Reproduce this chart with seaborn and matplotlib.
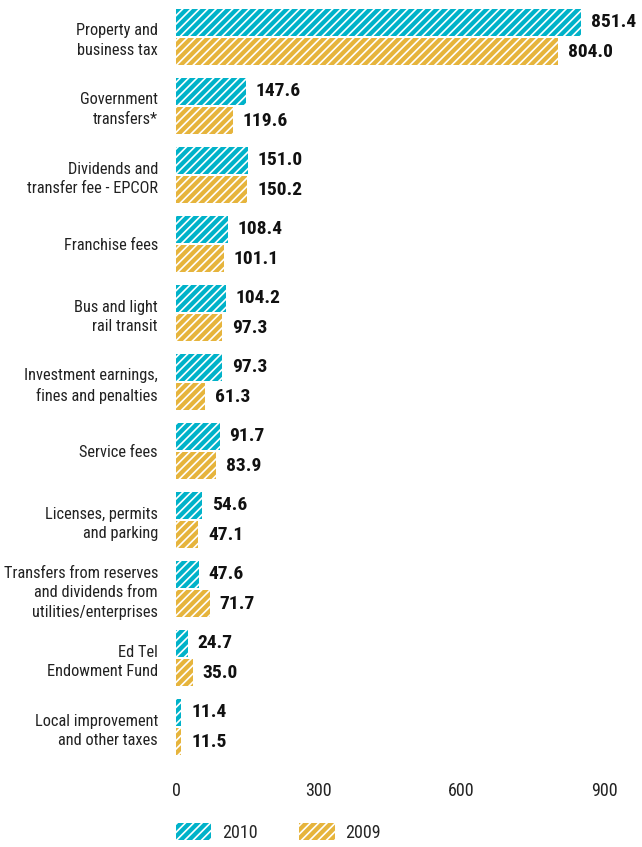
import matplotlib
matplotlib.use("Agg")
import matplotlib.pyplot as plt
from matplotlib import font_manager
from matplotlib.patches import Patch
import seaborn as sns
import pandas as pd

categories = [
    "Property and\nbusiness tax",
    "Government\ntransfers*",
    "Dividends and\ntransfer fee - EPCOR",
    "Franchise fees",
    "Bus and light\nrail transit",
    "Investment earnings,\nfines and penalties",
    "Service fees",
    "Licenses, permits\nand parking",
    "Transfers from reserves\nand dividends from\nutilities/enterprises",
    "Ed Tel\nEndowment Fund",
    "Local improvement\nand other taxes",
]
values_2010 = [851.4, 147.6, 151.0, 108.4, 104.2, 97.3, 91.7, 54.6, 47.6, 24.7, 11.4]
values_2009 = [804.0, 119.6, 150.2, 101.1, 97.3, 61.3, 83.9, 47.1, 71.7, 35.0, 11.5]
years = ["2010", "2009"]
colors = ["#00b2c9", "#e6b43c"]
x_ticks = [0, 300, 600, 900]

# pick a condensed face if one is installed
family = "DejaVu Sans"
for cand in ["Liberation Sans Narrow", "Roboto Condensed", "Open Sans Condensed", "Liberation Sans"]:
    try:
        font_manager.findfont(cand, fallback_to_default=False)
        family = cand
        break
    except Exception:
        pass

sns.set_style("white")
plt.rcParams["font.family"] = [family, "DejaVu Sans"]
plt.rcParams["hatch.linewidth"] = 1.2

df = pd.DataFrame({
    "category": categories * 2,
    "value": values_2010 + values_2009,
    "year": [years[0]] * len(categories) + [years[1]] * len(categories),
})

fig = plt.figure(figsize=(6.42, 8.47), dpi=100)
ax = fig.add_axes([176 / 642, 1 - 761.5 / 847, 428 / 642, 759 / 847])

sns.barplot(data=df, x="value", y="category", hue="year", hue_order=years,
            palette=colors, orient="h", width=0.86, gap=0.1, legend=False,
            saturation=1, ax=ax)

for bar in ax.patches:
    bar.set_hatch("////")
    bar.set_edgecolor("white")
    bar.set_linewidth(0)

for cont in ax.containers:
    ax.bar_label(cont, fmt="%.1f", padding=7, fontsize=14, fontweight="bold",
                 color="#111111")

ax.set_xlim(0, 900)
ax.set_ylim(10.5, -0.5)
ax.set_xticks(x_ticks)
ax.set_xticklabels([str(t) for t in x_ticks])
ax.tick_params(axis="x", length=0, pad=15, labelsize=13, colors="#222222")
ax.tick_params(axis="y", length=0, pad=13, labelsize=11.8, colors="#222222")
for lab in ax.get_yticklabels():
    lab.set_multialignment("right")
    lab.set_linespacing(1.4)
ax.set_xlabel("")
ax.set_ylabel("")
for s in ax.spines.values():
    s.set_visible(False)

handles = [Patch(facecolor=c, edgecolor="white", linewidth=0, hatch="////") for c in colors]
fig.legend(handles, years, loc="lower left", bbox_to_anchor=(160 / 642, -0.013),
           ncol=2, frameon=False, fontsize=13, handlelength=1.95, handleheight=1.1,
           columnspacing=2.3, handletextpad=0.6)

fig.savefig("out.png", dpi=100)
